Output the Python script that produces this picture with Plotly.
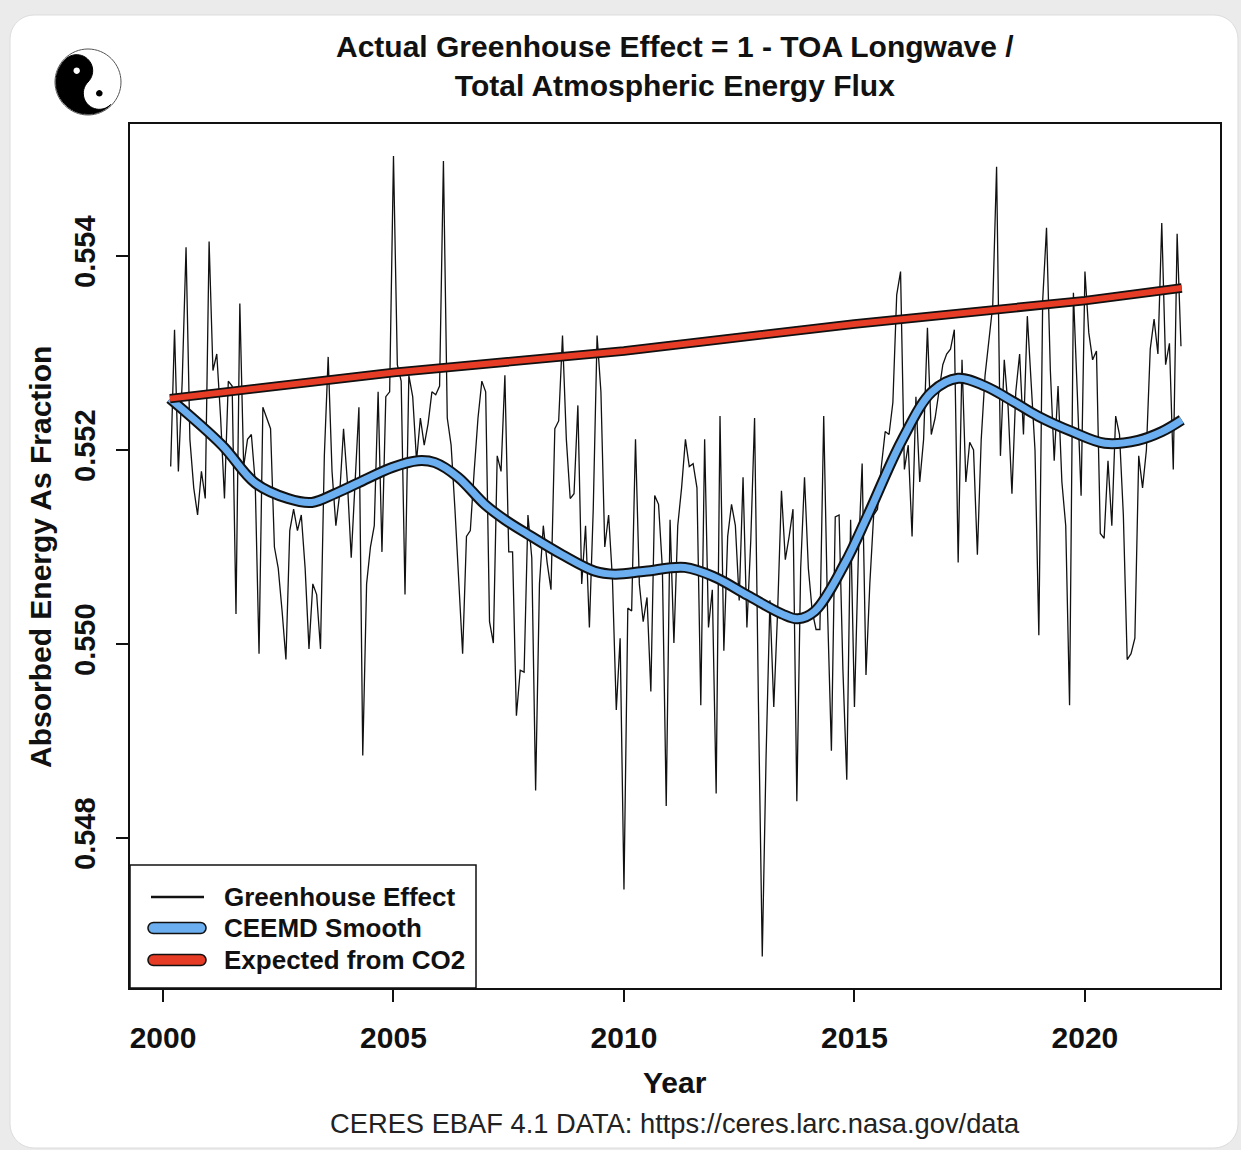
import numpy as np
import plotly.graph_objects as go

# Monthly greenhouse effect fraction (1 - TOA longwave / total atmospheric energy flux),
# CERES EBAF 4.1, March 2000 through February 2022
ghe = [
    0.55183, 0.55324, 0.55178, 0.55271, 0.55409, 0.55211, 0.55161, 0.55133, 0.55178, 0.55150,
    0.55415, 0.55282, 0.55299, 0.55233, 0.55150, 0.55271, 0.55266, 0.55031, 0.55351, 0.55183,
    0.55211, 0.55216, 0.55167, 0.54990, 0.55244, 0.55233, 0.55222, 0.55100, 0.55078, 0.55034,
    0.54984, 0.55117, 0.55139, 0.55117, 0.55133, 0.55078, 0.54995, 0.55062, 0.55051, 0.54995,
    0.55194, 0.55296, 0.55178, 0.55122, 0.55155, 0.55222, 0.55167, 0.55089, 0.55167, 0.55244,
    0.54885, 0.55062, 0.55100, 0.55122, 0.55260, 0.55095, 0.55255, 0.55260, 0.55503, 0.55288,
    0.55271, 0.55051, 0.55277, 0.55255, 0.55189, 0.55233, 0.55205, 0.55227, 0.55260, 0.55257,
    0.55266, 0.55498, 0.55233, 0.55205, 0.55139, 0.55067, 0.54990, 0.55111, 0.55117, 0.55178,
    0.55233, 0.55271, 0.55260, 0.55023, 0.55001, 0.55194, 0.55178, 0.55277, 0.55095, 0.55095,
    0.54926, 0.54973, 0.54971, 0.55133, 0.55089, 0.54849, 0.55062, 0.55122, 0.55084, 0.55056,
    0.55222, 0.55230, 0.55318, 0.55211, 0.55150, 0.55155, 0.55246, 0.55062, 0.55122, 0.55017,
    0.55139, 0.55318, 0.55260, 0.55100, 0.55133, 0.55067, 0.54932, 0.55006, 0.54747, 0.55037,
    0.55034, 0.55211, 0.55062, 0.55023, 0.55048, 0.54951, 0.55153, 0.55144, 0.55078, 0.54833,
    0.55128, 0.55001, 0.55122, 0.55161, 0.55211, 0.55183, 0.55186, 0.55161, 0.54937, 0.55211,
    0.55017, 0.55056, 0.54846, 0.55235, 0.54993, 0.55111, 0.55144, 0.55122, 0.55045, 0.55172,
    0.55017, 0.55106, 0.55233, 0.54940, 0.54678, 0.54885, 0.55045, 0.54935, 0.55034, 0.55158,
    0.55087, 0.55111, 0.55139, 0.54838, 0.55078, 0.55172, 0.55078, 0.55034, 0.55015, 0.55015,
    0.55235, 0.55034, 0.54890, 0.55131, 0.55133, 0.54973, 0.54860, 0.55128, 0.54935, 0.55089,
    0.55186, 0.54968, 0.55062, 0.55133, 0.55139, 0.55183, 0.55219, 0.55216, 0.55249, 0.55360,
    0.55384, 0.55180, 0.55205, 0.55111, 0.55255, 0.55167, 0.55211, 0.55326, 0.55216, 0.55233,
    0.55260, 0.55288, 0.55299, 0.55304, 0.55324, 0.55084, 0.55293, 0.55167, 0.55208, 0.55200,
    0.55092, 0.55211, 0.55277, 0.55313, 0.55349, 0.55492, 0.55194, 0.55293, 0.55244, 0.55155,
    0.55260, 0.55299, 0.55216, 0.55338, 0.55271, 0.55200, 0.55009, 0.55354, 0.55429, 0.55282,
    0.55189, 0.55266, 0.55167, 0.55122, 0.54937, 0.55362, 0.55260, 0.55153, 0.55384, 0.55321,
    0.55293, 0.55302, 0.55114, 0.55109, 0.55189, 0.55122, 0.55235, 0.55216, 0.55133, 0.54984,
    0.54990, 0.55006, 0.55194, 0.55161, 0.55200, 0.55304, 0.55335, 0.55299, 0.55434, 0.55288,
    0.55310, 0.55180, 0.55423, 0.55307,
]
first_year = 2000
first_month = 3
months = [first_year + (first_month - 1 + i) / 12 for i in range(len(ghe))]

# CEEMD smooth of the monthly series
smooth_years = [
    2000.15, 2001.28, 2002.00, 2002.71, 2003.23, 2003.73, 2004.23, 2004.97, 2005.53, 2005.90,
    2006.40, 2006.98, 2007.42, 2007.92, 2008.66, 2009.37, 2009.80, 2010.46, 2011.32, 2011.97,
    2012.69, 2013.43, 2013.77, 2014.14, 2014.79, 2015.29, 2016.03, 2016.68, 2017.25, 2017.83,
    2018.48, 2018.98, 2019.72, 2020.43, 2021.15, 2021.67, 2022.10,
]
smooth_vals = [
    0.55253, 0.55205, 0.55166, 0.55150, 0.55146, 0.55155, 0.55166, 0.55182, 0.55189, 0.55187,
    0.55172, 0.55144, 0.55128, 0.55113, 0.55092, 0.55075, 0.55072, 0.55075, 0.55079, 0.55069,
    0.55050, 0.55031, 0.55026, 0.55034, 0.55083, 0.55133, 0.55210, 0.55260, 0.55274, 0.55266,
    0.55249, 0.55235, 0.55219, 0.55207, 0.55210, 0.55219, 0.55231,
]

# Greenhouse effect expected from rising CO2
co2_years = [2000.15, 2005.0, 2010.0, 2015.0, 2020.0, 2022.10]
co2_vals = [0.55253, 0.55280, 0.55302, 0.55330, 0.55354, 0.55367]

x_ticks = [2000, 2005, 2010, 2015, 2020]
y_ticks = [0.548, 0.550, 0.552, 0.554]
y_tick_text = ["0.548", "0.550", "0.552", "0.554"]

legend_labels = ["Greenhouse Effect", "CEEMD Smooth", "Expected from CO2"]

title_text = "Actual Greenhouse Effect = 1 - TOA Longwave /<br>Total Atmospheric Energy Flux"
source_text = "CERES EBAF 4.1 DATA: https://ceres.larc.nasa.gov/data"

FONT = "Liberation Sans, Arial, Helvetica, sans-serif"
BLUE = "#6BAFF0"
RED = "#E63B25"
INK = "#111111"

# page geometry (pixels) and plot frame
W, H = 1241, 1150
L, R, T, B = 130, 1220, 124, 988
PW, PH = R - L, B - T


def paper(px, py):
    return (px - L) / PW, (B - py) / PH


def path_of(points):
    pts = [paper(x, y) for x, y in points]
    return "M " + " L ".join(f"{x:.5f},{y:.5f}" for x, y in pts) + " Z"


def circle_pts(cx, cy, r, n=48):
    t = np.linspace(0, 2 * np.pi, n, endpoint=False)
    return list(zip(cx + r * np.cos(t), cy + r * np.sin(t)))


def pill_pts(x0, x1, yc, h, n=14):
    r = h / 2
    pts = []
    for t in np.linspace(-np.pi / 2, np.pi / 2, n):
        pts.append((x1 - r + r * np.cos(t), yc + r * np.sin(t)))
    for t in np.linspace(np.pi / 2, 3 * np.pi / 2, n):
        pts.append((x0 + r + r * np.cos(t), yc + r * np.sin(t)))
    return pts


def rounded_rect_pts(x0, y0, x1, y1, r, n=10):
    pts = []
    corners = [(x1 - r, y0 + r, -np.pi / 2, 0), (x1 - r, y1 - r, 0, np.pi / 2),
               (x0 + r, y1 - r, np.pi / 2, np.pi), (x0 + r, y0 + r, np.pi, 1.5 * np.pi)]
    for cx, cy, a0, a1 in corners:
        for t in np.linspace(a0, a1, n):
            pts.append((cx + r * np.cos(t), cy + r * np.sin(t)))
    return pts


def yin_yang_black(cx, cy, r):
    u = np.array([1.0, 1.0]) / np.sqrt(2)
    w = np.array([-1.0, 1.0]) / np.sqrt(2)
    c = np.array([cx, cy])
    a = c - u * r / 2
    b = c + u * r / 2
    pts = []
    for t in np.linspace(np.pi, 0, 40):
        pts.append(c + r * (np.cos(t) * u + np.sin(t) * w))
    for t in np.linspace(0, np.pi, 24):
        pts.append(b + r / 2 * (np.cos(t) * u + np.sin(t) * w))
    for t in np.linspace(0, -np.pi, 24):
        pts.append(a + r / 2 * (np.cos(t) * u + np.sin(t) * w))
    return [tuple(p) for p in pts]


fig = go.Figure()

fig.add_trace(go.Scatter(x=months, y=ghe, mode="lines",
                         line=dict(color=INK, width=1.3), hoverinfo="skip"))
fig.add_trace(go.Scatter(x=smooth_years, y=smooth_vals, mode="lines",
                         line=dict(color=INK, width=11, shape="spline"), hoverinfo="skip"))
fig.add_trace(go.Scatter(x=smooth_years, y=smooth_vals, mode="lines",
                         line=dict(color=BLUE, width=7, shape="spline"), hoverinfo="skip"))
fig.add_trace(go.Scatter(x=co2_years, y=co2_vals, mode="lines",
                         line=dict(color=INK, width=9.5), hoverinfo="skip"))
fig.add_trace(go.Scatter(x=co2_years, y=co2_vals, mode="lines",
                         line=dict(color=RED, width=6), hoverinfo="skip"))

shapes = []
# white card behind the chart
shapes.append(dict(type="path", xref="paper", yref="paper", layer="below",
                   path=path_of(rounded_rect_pts(10, 15, 1238, 1148, 24)),
                   fillcolor="white", line=dict(color="#dcdcdc", width=1)))

# yin-yang badge in the top-left corner
cx, cy, rr = 88, 82, 32
shapes.append(dict(type="path", xref="paper", yref="paper",
                   path=path_of(circle_pts(cx, cy, rr + 1, 64)),
                   fillcolor="white", line=dict(color="#555555", width=1)))
shapes.append(dict(type="path", xref="paper", yref="paper",
                   path=path_of(yin_yang_black(cx, cy, rr)),
                   fillcolor="black", line=dict(color="black", width=1)))
shapes.append(dict(type="path", xref="paper", yref="paper",
                   path=path_of(circle_pts(cx - 11.3, cy - 11.3, 3.2, 20)),
                   fillcolor="white", line=dict(width=0)))
shapes.append(dict(type="path", xref="paper", yref="paper",
                   path=path_of(circle_pts(cx + 11.3, cy + 11.3, 3.2, 20)),
                   fillcolor="black", line=dict(width=0)))

# legend box and keys
lx0, lx1, ly0 = 130, 476, 865
shapes.append(dict(type="rect", xref="paper", yref="paper",
                   x0=paper(lx0, 0)[0], x1=paper(lx1, 0)[0],
                   y0=paper(0, ly0)[1], y1=0,
                   fillcolor="white", line=dict(color=INK, width=1.5)))
key_y = [897, 928, 960]
shapes.append(dict(type="line", xref="paper", yref="paper",
                   x0=paper(151, 0)[0], x1=paper(204, 0)[0],
                   y0=paper(0, key_y[0])[1], y1=paper(0, key_y[0])[1],
                   line=dict(color=INK, width=2.5)))
for ky, col in [(key_y[1], BLUE), (key_y[2], RED)]:
    shapes.append(dict(type="path", xref="paper", yref="paper",
                       path=path_of(pill_pts(148, 206, ky, 11)),
                       fillcolor=col, line=dict(color=INK, width=1.5)))

annotations = []
for ky, lab in zip(key_y, legend_labels):
    annotations.append(dict(x=paper(222, 0)[0], y=paper(0, ky)[1], xref="paper", yref="paper",
                            text=lab, showarrow=False, xanchor="left", yanchor="middle",
                            font=dict(family=FONT, size=26, color=INK, weight="bold")))

annotations.append(dict(x=0.5, y=paper(0, 66)[1], xref="paper", yref="paper",
                        text=title_text, showarrow=False, xanchor="center", yanchor="middle",
                        font=dict(family=FONT, size=30, color=INK, weight="bold")))
annotations.append(dict(x=0.5, y=paper(0, 1082)[1], xref="paper", yref="paper",
                        text="Year", showarrow=False, xanchor="center", yanchor="middle",
                        font=dict(family=FONT, size=30, color=INK, weight="bold")))
annotations.append(dict(x=0.5, y=paper(0, 1123)[1], xref="paper", yref="paper",
                        text=source_text, showarrow=False, xanchor="center", yanchor="middle",
                        font=dict(family=FONT, size=27.3, color="#222222")))
annotations.append(dict(x=paper(40, 0)[0], y=paper(0, 557)[1], xref="paper", yref="paper",
                        text="Absorbed Energy As Fraction", showarrow=False, textangle=-90,
                        xanchor="center", yanchor="middle",
                        font=dict(family=FONT, size=30, color=INK, weight="bold")))

fig.update_layout(
    width=W, height=H, autosize=False,
    margin=dict(l=L, r=W - R, t=T, b=H - B, pad=0),
    paper_bgcolor="#ebebeb",
    plot_bgcolor="rgba(0,0,0,0)",
    showlegend=False,
    shapes=shapes,
    annotations=annotations,
    xaxis=dict(range=[1999.284, 2022.93], tickvals=x_ticks, ticks="outside", ticklen=12,
               tickwidth=1.5, tickcolor=INK, showline=True, mirror=True, linecolor=INK,
               linewidth=1.5, showgrid=False, zeroline=False, ticklabelstandoff=10,
               tickfont=dict(family=FONT, size=30, color=INK, weight="bold")),
    yaxis=dict(range=[0.546454, 0.555361], tickvals=y_ticks, ticktext=y_tick_text,
               ticks="outside", ticklen=12, tickwidth=1.5, tickcolor=INK, tickangle=-90,
               showline=True, mirror=True, linecolor=INK, linewidth=1.5, showgrid=False,
               zeroline=False, ticklabelstandoff=10,
               tickfont=dict(family=FONT, size=29, color=INK, weight="bold")),
)

fig.write_html("out.html")
